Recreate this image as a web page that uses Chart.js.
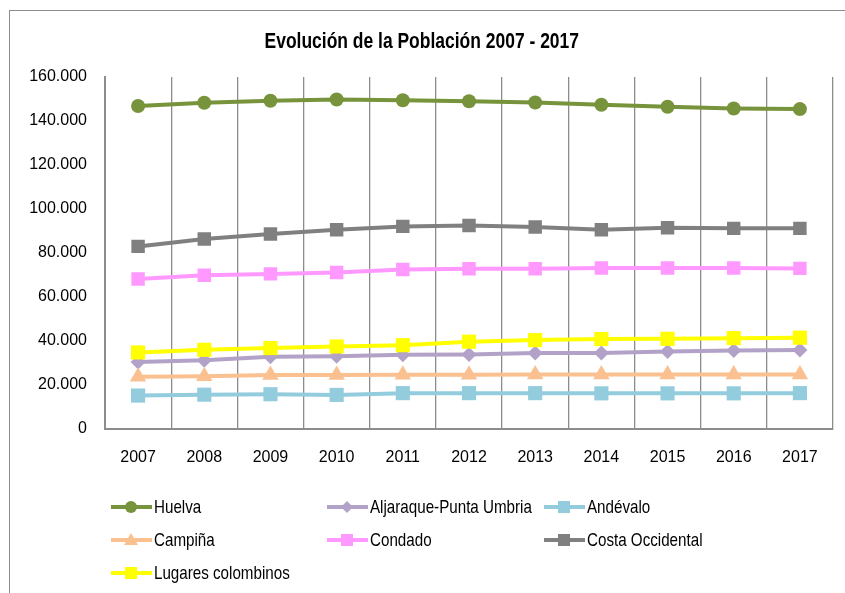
<!DOCTYPE html>
<html>
<head>
<meta charset="utf-8">
<script src="https://cdn.jsdelivr.net/npm/chart.js@4"></script>
<style>
  html, body { margin: 0; padding: 0; background: #fff; width: 845px; height: 593px; overflow: hidden; position: relative; }
  #frame { position: absolute; left: 9px; top: 10px; width: 900px; height: 700px; border: 1px solid #8c8c8c; box-sizing: border-box; }
  #c { position: absolute; left: 0; top: 0; }
  #title { position: absolute; left: 0; width: 843px; top: 29px; text-align: center; }
  #title span { display: inline-block; transform: scaleX(0.82); transform-origin: center;
    font: bold 21.3px 'Liberation Sans', Arial, sans-serif; color: #000; white-space: nowrap; }
  .lg { position: absolute; height: 22px; display: flex; align-items: center; white-space: nowrap; }
  .lg span { display: inline-block; transform: scaleX(0.82); transform-origin: left center;
    font: 18.5px 'Liberation Sans', Arial, sans-serif; color: #000; margin-left: 2px; }
</style>
</head>
<body>
<div id="frame"></div>
<canvas id="c" width="845" height="593"></canvas>
<div id="title"><span>Evolución de la Población 2007 - 2017</span></div>
<div id="legend"></div>
<script>
const years = ['2007','2008','2009','2010','2011','2012','2013','2014','2015','2016','2017'];
const huelva    = [146800,148300,149200,149800,149400,149000,148400,147400,146500,145700,145400];
const aljaraque = [30500,31300,32800,33100,33700,33900,34500,34600,35200,35700,35900];
const andevalo  = [15200,15600,15800,15500,16300,16300,16300,16200,16200,16200,16300];
const campina   = [23800,24000,24600,24600,24700,24700,24800,24800,24800,24800,24800];
const condado   = [68200,69900,70500,71100,72500,72800,72800,73200,73200,73200,73000];
const costa     = [83000,86400,88600,90600,92100,92500,91800,90600,91500,91200,91200];
const lugares   = [34800,36000,36800,37500,38100,39700,40400,40900,41000,41300,41500];
const seriesNames = ['Huelva','Aljaraque-Punta Umbria','Andévalo','Campiña','Condado','Costa Occidental','Lugares colombinos'];

const FONT = "'Liberation Sans', Arial, sans-serif";
const styles = [
  {color:'#77933C', shape:'circle',   r:7},
  {color:'#B3A2C7', shape:'rectRot',  r:7.5},
  {color:'#93CDDD', shape:'rect',     r:10},
  {color:'#FAC090', shape:'triangle', r:9.5},
  {color:'#FF99FF', shape:'rect',     r:9.5},
  {color:'#808080', shape:'rect',     r:9.5},
  {color:'#FFFF00', shape:'rect',     r:10}
];
const values = [huelva, aljaraque, andevalo, campina, condado, costa, lugares];

const datasets = values.map((v, i) => ({
  label: seriesNames[i],
  data: v,
  borderColor: styles[i].color,
  backgroundColor: styles[i].color,
  borderWidth: 4,
  pointStyle: styles[i].shape,
  pointRadius: styles[i].r,
  pointHoverRadius: styles[i].r,
  pointBorderWidth: 0,
  pointBackgroundColor: styles[i].color,
  tension: 0,
  order: 10 - i
}));

function fmt(v) {
  return String(v).replace(/\B(?=(\d{3})+(?!\d))/g, '.');
}

Chart.defaults.font.family = FONT;
Chart.defaults.font.size = 16;
Chart.defaults.color = '#000';

new Chart(document.getElementById('c'), {
  type: 'line',
  data: { labels: years, datasets },
  options: {
    responsive: false,
    animation: false,
    layout: { padding: { top: 77, left: 0, right: 12, bottom: 119 } },
    plugins: { legend: { display: false }, title: { display: false }, tooltip: { enabled: false } },
    scales: {
      x: {
        offset: true,
        grid: { offset: true, color: '#8c8c8c', lineWidth: 1.3, drawTicks: false },
        border: { display: true, color: '#8c8c8c', width: 2 },
        ticks: { padding: 19, maxRotation: 0, autoSkip: false },
        afterFit: s => { s.height = 45; }
      },
      y: {
        min: 0, max: 160000,
        grid: { display: false, drawTicks: false },
        border: { display: true, color: '#8c8c8c', width: 2 },
        ticks: { stepSize: 20000, padding: 18, callback: v => fmt(v) },
        afterFit: s => { s.width = 105; }
      }
    }
  }
});

// HTML legend built from the series
const legendPos = [
  {x:111, y:507}, {x:327, y:507}, {x:544, y:507},
  {x:111, y:540}, {x:327, y:540}, {x:544, y:540},
  {x:111, y:573}
];
function markerSvg(st) {
  const c = st.color, cx = 20, cy = 11;
  let m = '';
  if (st.shape === 'circle') m = `<circle cx="${cx}" cy="${cy}" r="6" fill="${c}"/>`;
  else if (st.shape === 'rectRot') m = `<polygon points="${cx-6},${cy} ${cx},${cy-6} ${cx+6},${cy} ${cx},${cy+6}" fill="${c}"/>`;
  else if (st.shape === 'triangle') m = `<polygon points="${cx-7},${cy+5} ${cx},${cy-7} ${cx+7},${cy+5}" fill="${c}"/>`;
  else m = `<rect x="${cx-6}" y="${cy-6}" width="12" height="12" fill="${c}"/>`;
  return `<svg width="41" height="22"><line x1="0" y1="${cy}" x2="41" y2="${cy}" stroke="${c}" stroke-width="4"/>${m}</svg>`;
}
const lg = document.getElementById('legend');
seriesNames.forEach((n, i) => {
  const d = document.createElement('div');
  d.className = 'lg';
  d.style.left = legendPos[i].x + 'px';
  d.style.top = (legendPos[i].y - 11) + 'px';
  d.innerHTML = markerSvg(styles[i]) + '<span>' + n + '</span>';
  lg.appendChild(d);
});
</script>
</body>
</html>
